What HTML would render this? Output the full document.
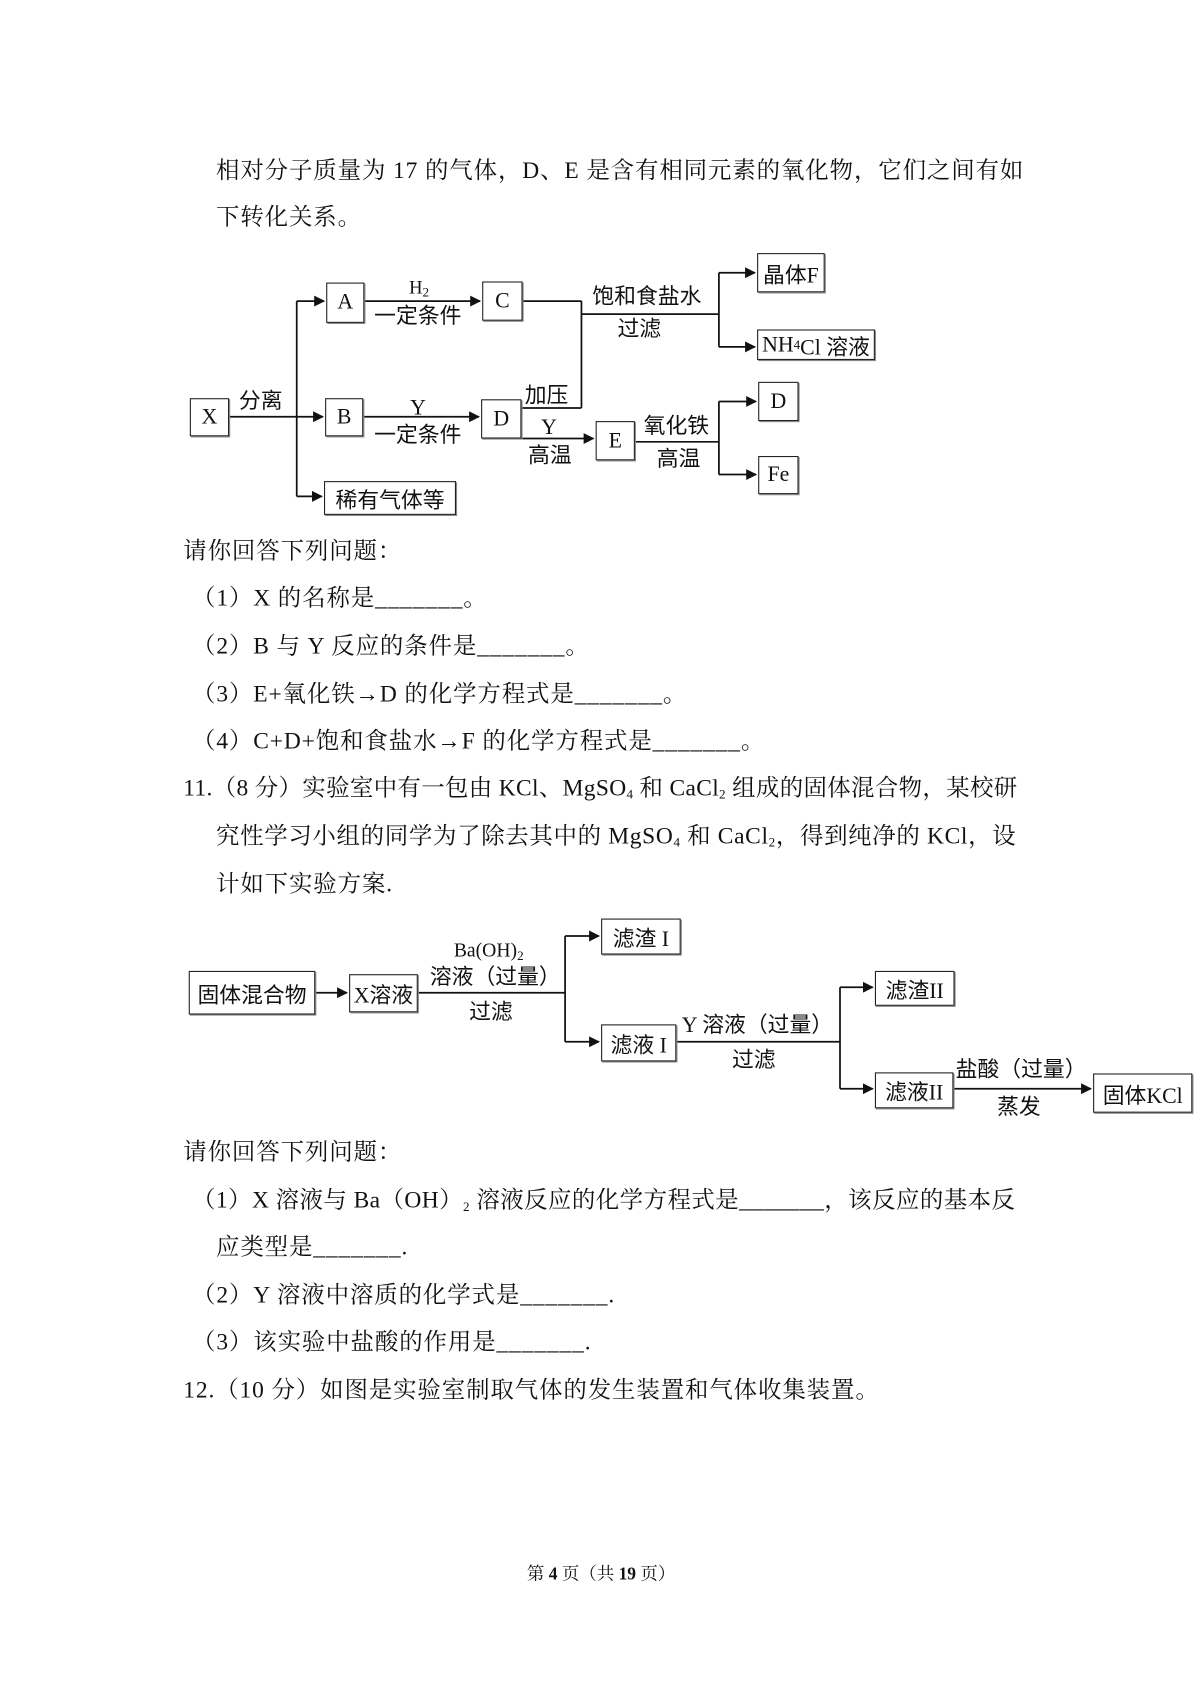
<!DOCTYPE html>
<html><head><meta charset="utf-8"><style>
body{margin:0;background:#fff;}
#w{position:relative;width:1200px;height:1698px;overflow:hidden;}
#p{position:absolute;left:0;top:0;width:1100px;height:1557px;transform:scale(1.0909);transform-origin:0 0;font-family:"Liberation Serif","Noto Serif CJK SC",serif;color:#111;}
.t{position:absolute;font-size:21.5px;letter-spacing:0.8px;white-space:nowrap;line-height:24px;}
.b{position:absolute;border:1.5px solid #222;box-sizing:border-box;display:flex;align-items:center;justify-content:center;font-size:20px;font-family:"Liberation Serif","Noto Sans CJK SC",sans-serif;background:#fff;box-shadow:1px 1px 0 #888;}
.l{position:absolute;font-size:20px;white-space:nowrap;line-height:22px;font-family:"Liberation Serif","Noto Sans CJK SC",sans-serif;}
sub{font-size:12px;vertical-align:-3px;}
svg{position:absolute;left:0;top:0;}
</style></head><body><div id="w"><div id="p">
<div class="t" style="left:198px;top:144px">相对分子质量为 17 的气体，D、E 是含有相同元素的氧化物，它们之间有如</div>
<div class="t" style="left:198px;top:187px">下转化关系。</div>

<svg width="1100" height="1557">
<defs><marker id="a" markerWidth="10" markerHeight="10" refX="9" refY="5" orient="auto" markerUnits="userSpaceOnUse"><path d="M0,0 L10,5 L0,10z" fill="#111"/></marker></defs>
<g stroke="#111" stroke-width="1.6" fill="none">
<line x1="210" y1="382" x2="296" y2="382" marker-end="url(#a)"/>
<line x1="272" y1="276" x2="272" y2="455"/>
<line x1="272" y1="276" x2="297" y2="276" marker-end="url(#a)"/>
<line x1="272" y1="455" x2="295" y2="455" marker-end="url(#a)"/>
<line x1="334" y1="276" x2="440" y2="276" marker-end="url(#a)"/>
<line x1="479" y1="276" x2="533" y2="276"/>
<line x1="533" y1="276" x2="533" y2="374"/>
<line x1="478" y1="374" x2="533" y2="374"/>
<line x1="533" y1="288" x2="659" y2="288"/>
<line x1="659" y1="250" x2="659" y2="318"/>
<line x1="659" y1="250" x2="692" y2="250" marker-end="url(#a)"/>
<line x1="659" y1="318" x2="692" y2="318" marker-end="url(#a)"/>
<line x1="333" y1="382" x2="439" y2="382" marker-end="url(#a)"/>
<line x1="478" y1="402" x2="544" y2="402" marker-end="url(#a)"/>
<line x1="582" y1="405" x2="659" y2="405"/>
<line x1="659" y1="368" x2="659" y2="435"/>
<line x1="659" y1="368" x2="693" y2="368" marker-end="url(#a)"/>
<line x1="659" y1="435" x2="693" y2="435" marker-end="url(#a)"/>

<line x1="289" y1="910" x2="318" y2="910" marker-end="url(#a)"/>
<line x1="383" y1="910" x2="518" y2="910"/>
<line x1="518" y1="858" x2="518" y2="955"/>
<line x1="518" y1="858" x2="549" y2="858" marker-end="url(#a)"/>
<line x1="518" y1="955" x2="549" y2="955" marker-end="url(#a)"/>
<line x1="620" y1="955" x2="770" y2="955"/>
<line x1="770" y1="905" x2="770" y2="998"/>
<line x1="770" y1="905" x2="800" y2="905" marker-end="url(#a)"/>
<line x1="770" y1="998" x2="800" y2="998" marker-end="url(#a)"/>
<line x1="874" y1="998" x2="1000" y2="998" marker-end="url(#a)"/>
</g></svg>

<div class="b" style="left:174px;top:365px;width:36px;height:35px">X</div>
<div class="l" style="left:219px;top:357px">分离</div>
<div class="b" style="left:299px;top:259px;width:35px;height:37px">A</div>
<div class="b" style="left:298px;top:365px;width:35px;height:35px">B</div>
<div class="b" style="left:297px;top:441px;width:121px;height:31px">稀有气体等</div>
<div class="l" style="left:375px;top:253px;font-size:17px">H<sub>2</sub></div>
<div class="l" style="left:343px;top:279px">一定条件</div>
<div class="b" style="left:442px;top:258px;width:37px;height:36px">C</div>
<div class="l" style="left:543px;top:261px">饱和食盐水</div>
<div class="l" style="left:566px;top:291px">过滤</div>
<div class="b" style="left:694px;top:232px;width:62px;height:36px">晶体F</div>
<div class="b" style="left:694px;top:302px;width:108px;height:28px">NH<sub>4</sub>Cl 溶液</div>
<div class="l" style="left:376px;top:363px">Y</div>
<div class="l" style="left:343px;top:388px">一定条件</div>
<div class="b" style="left:441px;top:366px;width:37px;height:36px">D</div>
<div class="l" style="left:481px;top:352px">加压</div>
<div class="l" style="left:496px;top:381px">Y</div>
<div class="l" style="left:484px;top:407px">高温</div>
<div class="b" style="left:546px;top:386px;width:36px;height:36px">E</div>
<div class="l" style="left:590px;top:380px">氧化铁</div>
<div class="l" style="left:602px;top:410px">高温</div>
<div class="b" style="left:695px;top:350px;width:37px;height:36px">D</div>
<div class="b" style="left:695px;top:418px;width:37px;height:35px">Fe</div>

<div class="t" style="left:168px;top:493px">请你回答下列问题：</div>
<div class="t" style="left:176px;top:536px">（1）X 的名称是_______。</div>
<div class="t" style="left:176px;top:580px">（2）B 与 Y 反应的条件是_______。</div>
<div class="t" style="left:176px;top:624px">（3）E+氧化铁→D 的化学方程式是_______。</div>
<div class="t" style="left:176px;top:667px">（4）C+D+饱和食盐水→F 的化学方程式是_______。</div>
<div class="t" style="left:168px;top:710px;letter-spacing:0.3px">11.（8 分）实验室中有一包由 KCl、MgSO<sub>4</sub> 和 CaCl<sub>2</sub> 组成的固体混合物，某校研</div>
<div class="t" style="left:198px;top:754px;letter-spacing:0.6px">究性学习小组的同学为了除去其中的 MgSO<sub>4</sub> 和 CaCl<sub>2</sub>，得到纯净的 KCl，设</div>
<div class="t" style="left:198px;top:798px">计如下实验方案.</div>

<div class="b" style="left:173px;top:890px;width:116px;height:40px">固体混合物</div>
<div class="b" style="left:320px;top:893px;width:63px;height:35px">X溶液</div>
<div class="l" style="left:416px;top:860px;font-size:18px">Ba(OH)<sub>2</sub></div>
<div class="l" style="left:394px;top:885px">溶液（过量）</div>
<div class="l" style="left:430px;top:917px">过滤</div>
<div class="b" style="left:551px;top:842px;width:73px;height:33px">滤渣 I</div>
<div class="b" style="left:551px;top:939px;width:69px;height:34px">滤液 I</div>
<div class="l" style="left:625px;top:929px">Y 溶液（过量）</div>
<div class="l" style="left:671px;top:961px">过滤</div>
<div class="b" style="left:802px;top:890px;width:73px;height:32px">滤渣II</div>
<div class="b" style="left:802px;top:983px;width:72px;height:33px">滤液II</div>
<div class="l" style="left:876px;top:970px">盐酸（过量）</div>
<div class="l" style="left:914px;top:1004px">蒸发</div>
<div class="b" style="left:1002px;top:984px;width:91px;height:36px">固体KCl</div>

<div class="t" style="left:168px;top:1044px">请你回答下列问题：</div>
<div class="t" style="left:176px;top:1088px;letter-spacing:0.4px">（1）X 溶液与 Ba（OH）<sub>2</sub> 溶液反应的化学方程式是_______，该反应的基本反</div>
<div class="t" style="left:198px;top:1131px">应类型是_______.</div>
<div class="t" style="left:176px;top:1175px">（2）Y 溶液中溶质的化学式是_______.</div>
<div class="t" style="left:176px;top:1218px">（3）该实验中盐酸的作用是_______.</div>
<div class="t" style="left:168px;top:1262px">12.（10 分）如图是实验室制取气体的发生装置和气体收集装置。</div>
<div class="t" style="left:483px;top:1432px;font-size:16px;letter-spacing:0">第 <b>4</b> 页（共 <b>19</b> 页）</div>
</div></div></body></html>
